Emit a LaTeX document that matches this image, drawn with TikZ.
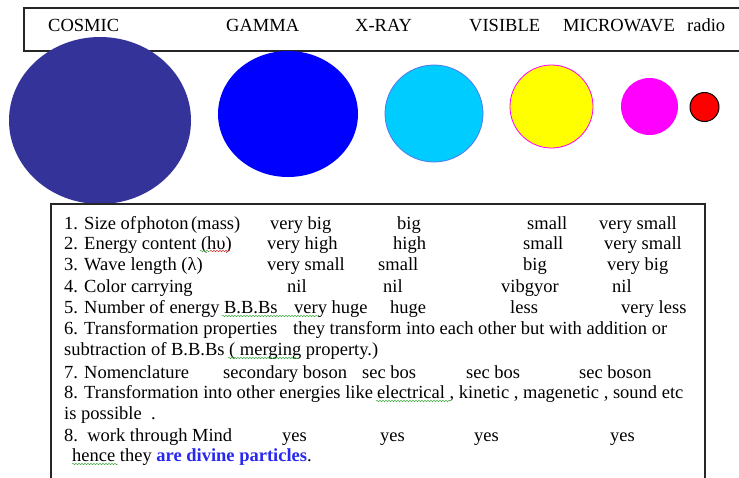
\documentclass[tikz,border=0pt]{standalone}
\usepackage{fontspec}
\setmainfont{Liberation Serif}
\usetikzlibrary{shapes.geometric,decorations.pathmorphing}
\definecolor{cosmicc}{RGB}{51,51,153}
\definecolor{gammac}{RGB}{0,0,255}
\definecolor{xrayc}{RGB}{0,204,255}
\definecolor{xrayline}{RGB}{80,120,240}
\definecolor{visc}{RGB}{255,255,0}
\definecolor{magc}{RGB}{255,0,255}
\definecolor{radioc}{RGB}{255,0,0}
\definecolor{divc}{RGB}{40,40,240}
\definecolor{spellg}{RGB}{60,170,60}
\definecolor{spellr}{RGB}{220,40,40}
\begin{document}
\begin{tikzpicture}[x=1pt,y=-1pt,
  txt/.style={anchor=base west, inner sep=0pt, font=\fontsize{18.5}{22}\selectfont},
  ball/.style={ellipse, inner sep=0pt},
  frame/.style={line width=1.2pt, draw=black!85},
  wavy/.style={decorate, decoration={snake, amplitude=0.7pt, segment length=3pt}, line width=0.5pt}]
\useasboundingbox (0,0) rectangle (739,477);
\clip (0,0) rectangle (739,477);
% top frame
\draw[frame] (24,8) rectangle (760,51);
\node[txt] (lcos) at (48,31) {COSMIC};
\node[txt] (lgam) at (226,31) {GAMMA};
\node[txt] (lxr) at (355,31) {X-RAY};
\node[txt] (lvis) at (469,31) {VISIBLE};
\node[txt] (lmic) at (563,31) {MICROWAVE};
\node[txt] (lrad) at (687,31) {radio};
% balls
\node[ball, fill=cosmicc, minimum width=182pt, minimum height=167pt] (cosmic) at (100,120.5) {};
\node[ball, fill=gammac, minimum width=140pt, minimum height=126pt] (gamma) at (288,114) {};
\node[ball, fill=xrayc, draw=xrayline, line width=0.8pt, minimum width=98pt, minimum height=97pt] (xray) at (434,113.5) {};
\node[ball, fill=visc, draw=magc, line width=0.8pt, minimum width=83pt, minimum height=83pt] (visible) at (551.5,106.5) {};
\node[ball, fill=magc, minimum width=57pt, minimum height=57pt] (micro) at (649.5,106.5) {};
\node[ball, fill=radioc, draw=black, line width=1pt, minimum width=29pt, minimum height=29pt] (radio) at (704.5,107) {};
% table frame
\draw[frame] (51,490) -- (51,204) -- (705,204) -- (705,490);
% row 1
\node[txt] (r1a) at (64,229) {1. Size of\hspace{1pt}photon\hspace{2.5pt}(mass)};
\node[txt] (r1b) at (270,229) {very big};
\node[txt] (r1c) at (397,229) {big};
\node[txt] (r1d) at (527,229) {small};
\node[txt] (r1e) at (599,229) {very small};
% row 2
\node[txt] (r2a) at (64,249) {2. Energy content (hυ)};
\node[txt] (r2b) at (267,249) {very high};
\node[txt] (r2c) at (393,249) {high};
\node[txt] (r2d) at (523,249) {small};
\node[txt] (r2e) at (604,249) {very small};
% row 3
\node[txt] (r3a) at (64,270) {3. Wave length (λ)};
\node[txt] (r3b) at (267,270) {very small};
\node[txt] (r3c) at (378,270) {small};
\node[txt] (r3d) at (523,270) {big};
\node[txt] (r3e) at (607,270) {very big};
% row 4
\node[txt] (r4a) at (64,292) {4. Color carrying};
\node[txt] (r4b) at (287,292) {nil};
\node[txt] (r4c) at (383,292) {nil};
\node[txt] (r4d) at (501,292) {vibgyor};
\node[txt] (r4e) at (612,292) {nil};
% row 5
\node[txt] (r5a) at (64,313) {5. Number of energy B.B.Bs};
\node[txt] (r5b) at (294,313) {very huge};
\node[txt] (r5c) at (390,313) {huge};
\node[txt] (r5d) at (510,313) {less};
\node[txt] (r5e) at (621,313) {very less};
% row 6-7
\node[txt] (r6a) at (64,334) {6. Transformation properties};
\node[txt] (r6b) at (293,334) {they transform into each other but with addition or};
\node[txt] (r7a) at (64,355) {subtraction of B.B.Bs ( merging property.)};
% row 8
\node[txt] (r8a) at (64,378) {7. Nomenclature};
\node[txt] (r8b) at (223,378) {secondary boson};
\node[txt] (r8c) at (362,378) {sec bos};
\node[txt] (r8d) at (466,378) {sec bos};
\node[txt] (r8e) at (579,378) {sec boson};
% row 9-10
\node[txt] (r9a) at (64,398) {8. Transformation into other energies like};
\node[txt] (r9b) at (377,398) {electrical , kinetic , magenetic , sound etc};
\node[txt] (r10a) at (64,419) {is possible\ \ .};
% row 11
\node[txt] (r11a) at (64,441) {8.\ \ work through Mind};
\node[txt] (r11b) at (282,441) {yes};
\node[txt] (r11c) at (380,441) {yes};
\node[txt] (r11d) at (474,441) {yes};
\node[txt] (r11e) at (610,441) {yes};
% row 12
\node[txt] (r12a) at (72,461) {hence they \textcolor{divc}{\bfseries are divine particles}.};
% spelling marks
\draw[wavy, spellg] (200,251) -- (210,251);
\draw[wavy, spellr] (210,251) -- (230,251);
\draw[wavy, spellg] (222,316) -- (318,316);
\draw[wavy, spellg] (228,358) -- (298,358);
\draw[wavy, spellg] (376,401) -- (450,401);
\draw[wavy, spellg] (72,464) -- (118,464);
\end{tikzpicture}
\end{document}
